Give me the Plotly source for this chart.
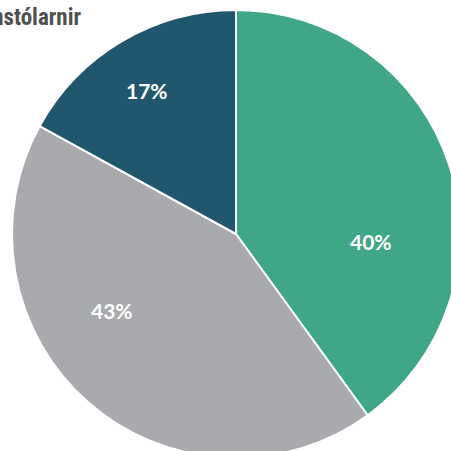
import plotly.graph_objects as go

labels = ["Flokkur A", "Flokkur B", "Flokkur C"]
values = [40, 43, 17]
colors = ["#3FA687", "#A9AAAD", "#21566F"]
title_text = "Þingmannstólarnir"

W = 460
H = 460
CX, CY = 236, 234  # pie centre in pixels
# label placement relative to pie centre (pixels)
label_offsets = [(135, 7), (-124, 76), (-89, -143)]

fig = go.Figure()
fig.add_trace(go.Pie(
    labels=labels,
    values=values,
    sort=False,
    direction="clockwise",
    rotation=0,
    marker=dict(colors=colors, line=dict(color="white", width=2)),
    textinfo="none",
    domain=dict(x=[12 / W, 1.0], y=[2 / H, 1 - 10 / H]),
    showlegend=False,
    hoverinfo="label+percent",
))

total = sum(values)
for v, (dx, dy) in zip(values, label_offsets):
    fig.add_annotation(
        text=f"{round(100 * v / total)}%",
        xref="paper", yref="paper",
        x=(CX + dx) / W, y=1 - (CY + dy) / H,
        xanchor="center", yanchor="middle",
        showarrow=False,
        font=dict(family="Lato", size=21, color="white", weight="bold"),
    )

fig.add_annotation(
    text=title_text,
    xref="paper", yref="paper",
    x=83 / W, y=1 - 17 / H,
    xanchor="right", yanchor="middle",
    showarrow=False,
    font=dict(family="Roboto Condensed, Liberation Sans Narrow, DejaVu Sans Condensed, Roboto",
              size=23, color="#505050", weight="bold"),
)

fig.update_layout(
    width=W, height=H,
    margin=dict(l=0, r=0, t=0, b=0),
    paper_bgcolor="white",
    plot_bgcolor="white",
)

fig.write_html(
    "out.html",
    config={"displayModeBar": False},
    post_script="document.body.style.margin='0';document.body.style.overflow='hidden';document.documentElement.style.overflow='hidden';",
)
